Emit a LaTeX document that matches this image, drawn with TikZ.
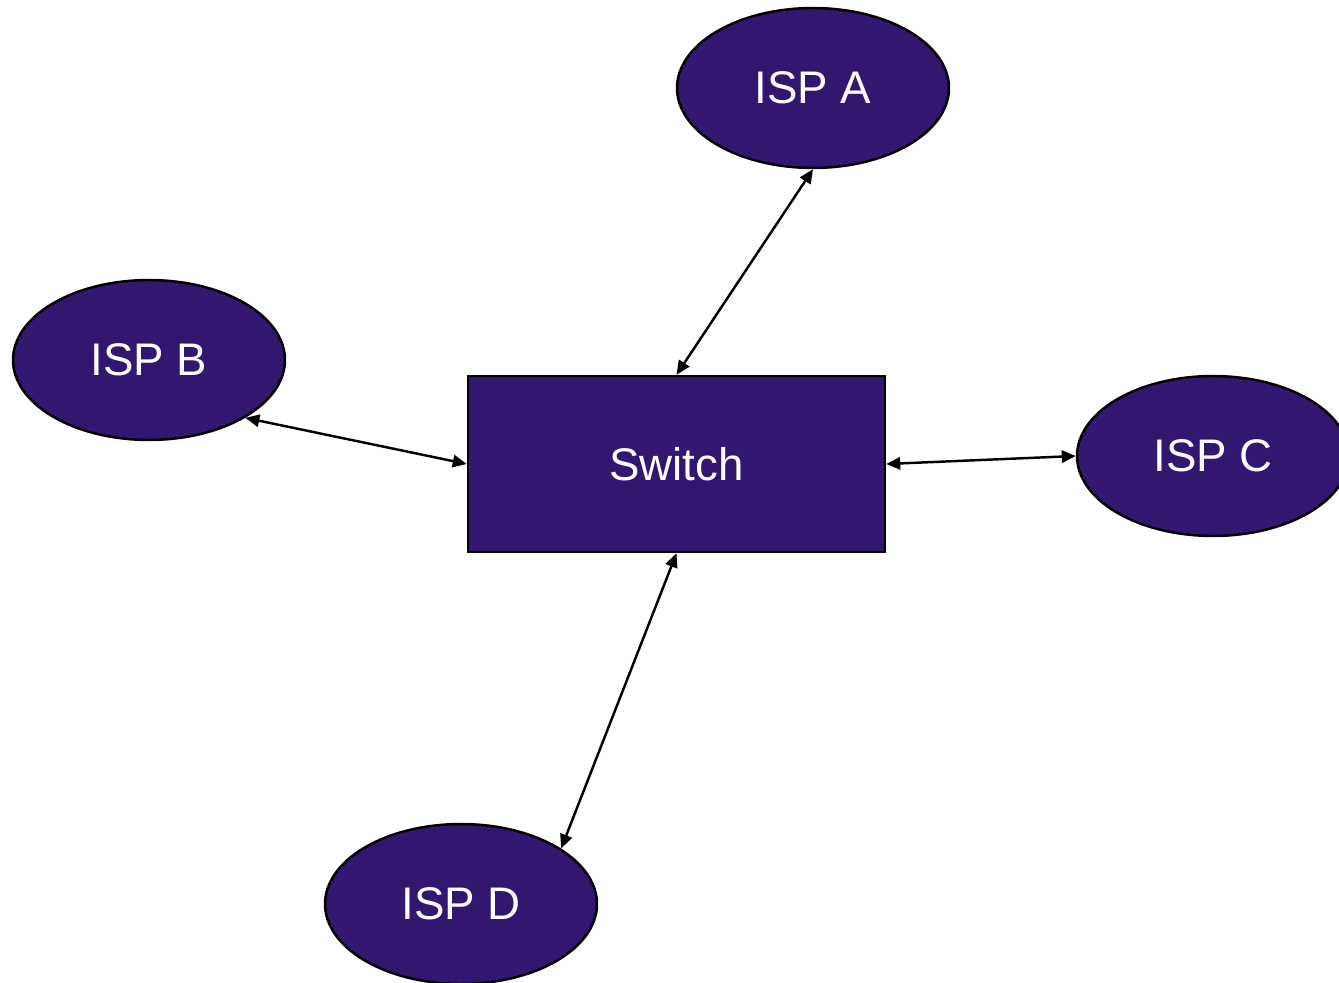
\documentclass[tikz,border=0pt]{standalone}
\usepackage{fontspec}
\setmainfont{Liberation Sans}
\usepackage{xcolor}
\usetikzlibrary{shapes.geometric,arrows.meta}
\definecolor{ispfill}{HTML}{321670}

\tikzset{
  isp/.style={ellipse,draw=black,line width=1.4pt,fill=ispfill,text=white,
    minimum width=5.44cm,minimum height=3.2cm,inner sep=0pt,
    font=\fontsize{26}{30}\selectfont},
  switchbox/.style={rectangle,draw=black,line width=1.4pt,fill=ispfill,text=white,
    minimum width=8.34cm,minimum height=3.52cm,inner sep=0pt,
    font=\fontsize{26}{30}\selectfont},
  link/.style={{Triangle[length=8pt,width=7pt]}-{Triangle[length=8pt,width=7pt]},
    line width=1.4pt,black}
}

\begin{document}
\begin{tikzpicture}[x=0.02cm,y=-0.02cm]
\clip (0,0) rectangle (1339,983);
\useasboundingbox (0,0) rectangle (1339,983);
%%
\node[switchbox] (sw) at (676.5,464) {Switch};
%%
\node[isp] (ispA) at (813,88) {ISP A};
\node[isp] (ispB) at (149,360) {ISP B};
\node[isp] (ispC) at (1213,456) {ISP C};
\node[isp] (ispD) at (461,904) {ISP D};
%%
\draw[link] (ispA.south) -- (sw.north);
\draw[link] (ispB.-31) -- (sw.west);
\draw[link] (sw.east) -- (ispC.west);
\draw[link] (sw.south) -- (ispD.29);
\end{tikzpicture}
\end{document}
